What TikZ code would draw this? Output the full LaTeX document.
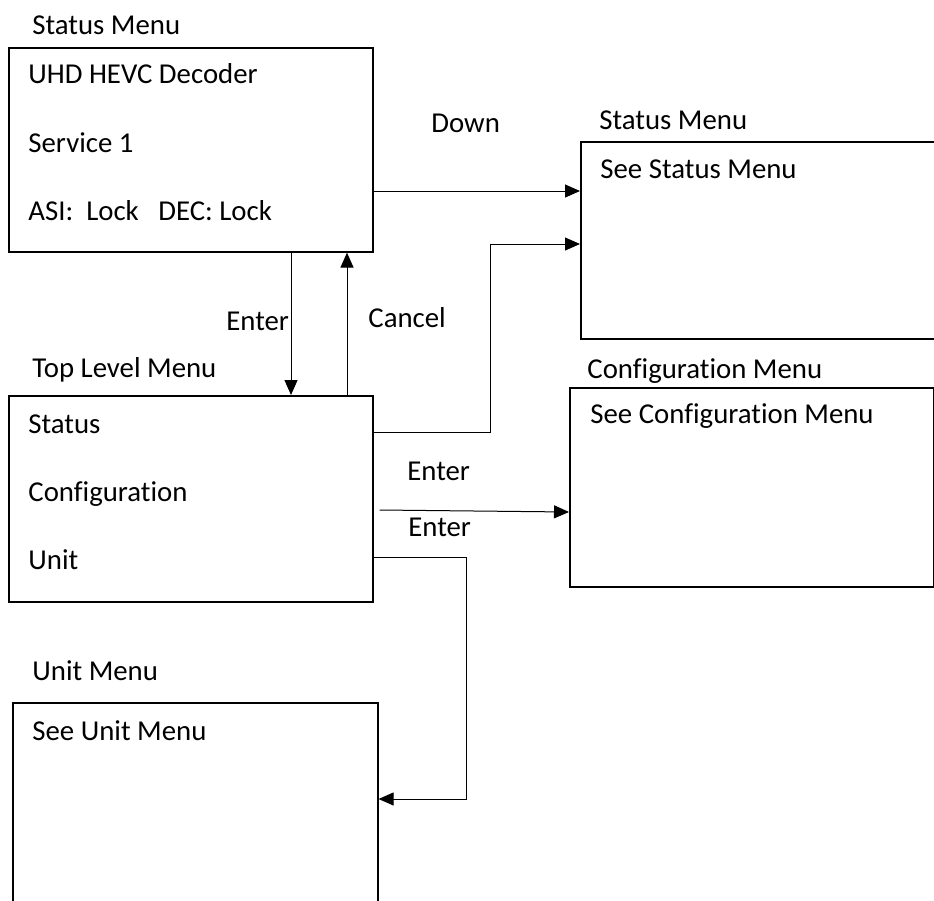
\documentclass[tikz,border=0pt]{standalone}
\usepackage{fontspec}
\setmainfont[Ligatures={NoCommon,NoRequired,NoContextual},Contextuals=NoAlternate]{Carlito}
\usetikzlibrary{arrows.meta,calc,positioning}
\tikzstyle{menu}=[rectangle, draw=black, line width=0.8pt, anchor=north west, inner sep=0pt]
\tikzstyle{txt}=[anchor=base west, inner sep=0pt, font=\fontsize{14.4}{17}\selectfont]
\tikzstyle{l1}=[line width=0.5pt]
\tikzstyle{arr}=[l1, -{Triangle[length=7.5pt,width=6.5pt]}]
% keep t and i apart
\newcommand{\cfg}{Configurat\kern0pt ion}

\begin{document}
\begin{tikzpicture}[x=0.5pt, y=-0.5pt]
    \useasboundingbox (0,0) rectangle (934,901);

    % boxes
    \node (stat) [menu, minimum width=182pt, minimum height=102pt] at (8,47) {};
    \node (statR) [menu, minimum width=177pt, minimum height=98.5pt] at (580,141) {};
    \node (conf) [menu, minimum width=182pt, minimum height=99.5pt] at (569,387) {};
    \node (top) [menu, minimum width=182pt, minimum height=103pt] at (8,395) {};
    \node (unit) [menu, minimum width=182.5pt, minimum height=115pt] at (12,702) {};

    % titles and entries
    \node (tstat) [txt] at (32,34) {Status Menu};
    \node (s1) [txt] at (28,83) {UHD HEVC Decoder};
    \node (s2) [txt] at (28,152) {Service 1};
    \node (s3) [txt] at (28,220) {ASI:\ \ Lock\ \ \ DEC: Lock};

    \node (tstatR) [txt] at (599,129) {Status Menu};
    \node (r1) [txt] at (600,178) {See Status Menu};

    \node (tconf) [txt] at (587,378) {\cfg{} Menu};
    \node (c1) [txt] at (590,423) {See \cfg{} Menu};

    \node (ttop) [txt] at (32,377) {Top Level Menu};
    \node (t1) [txt] at (28,433) {Status};
    \node (t2) [txt] at (28,501) {\cfg};
    \node (t3) [txt] at (28,569) {Unit};

    \node (tunit) [txt] at (32,680) {Unit Menu};
    \node (u1) [txt] at (32,740) {See Unit Menu};

    % transitions
    \draw[arr] (stat.east |- 0,191) -- (statR.west |- 0,191);
    \node (down) [txt] at (431,132) {Down};

    \draw[arr] (stat.south -| 291,0) -- (top.north -| 291,0);
    \node (enter1) [txt] at (226,330) {Enter};
    \draw[arr] (top.north -| 347,0) -- (stat.south -| 347,0);
    \node (cancel) [txt] at (368,327) {Cancel};

    \draw[arr] (top.east |- 0,432) -| (490,244) -- (statR.west |- 0,244);

    \draw[arr] ([xshift=3pt]top.east |- 0,510) -- (conf.west |- 0,512);
    \node (enter2) [txt] at (407,480) {Enter};
    \node (enter3) [txt] at (408,536) {Enter};

    \draw[arr] (top.east |- 0,557) -| (466,799) -- (unit.east |- 0,799);
\end{tikzpicture}
\end{document}
